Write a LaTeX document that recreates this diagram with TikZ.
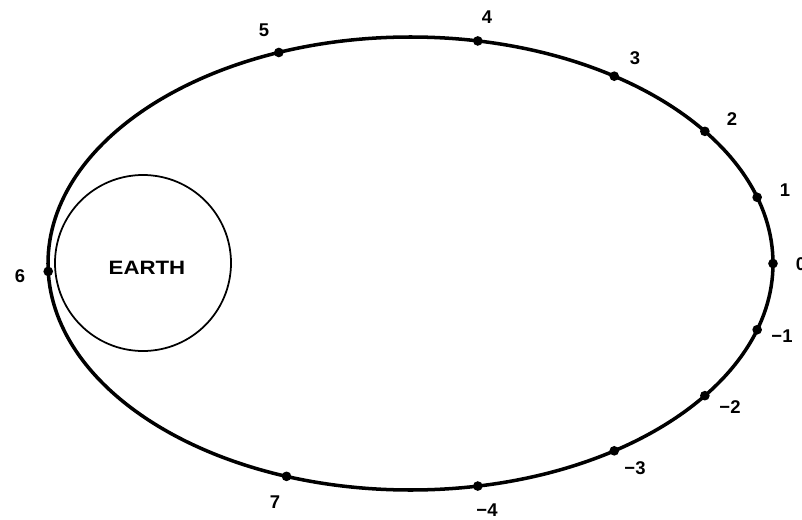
\documentclass[tikz,border=0pt]{standalone}
\usepackage{fontspec}
\setmainfont{Liberation Sans}
\begin{document}
\begin{tikzpicture}[
  orbitdot/.style={circle,fill,inner sep=0pt,minimum size=5.5pt},
  num/.style={font=\bfseries\fontsize{10.5}{11}\selectfont}]
\useasboundingbox (0,0) rectangle (16.04,10.38);
\coordinate (c) at (8.21,5.11);

% orbit and earth
\draw[line width=2pt] (c) ellipse [x radius=7.25, y radius=4.53];
\node[draw,circle,line width=1pt,minimum size=3.52cm,inner sep=0pt] (earth) at (2.86,5.12) {};
\node[font=\bfseries\fontsize{11}{12}\selectfont,xscale=1.15] (earthname) at (2.94,5.03) {EARTH};

% positions on the orbit
\foreach \a/\n in {0/p0,17/p1,35.7/p2,55.8/p3,79.3/p4,111.3/p5,182/p6,250/p7,
                   280.7/pm4,304.2/pm3,324.3/pm2,343/pm1}
  \node[orbitdot] (\n) at ([shift={(\a:7.25 and 4.53)}]c) {};

\foreach \x/\y/\t [count=\i] in {16.02/5.10/0,15.70/6.58/1,14.64/8.00/2,12.70/9.22/3,
                   9.74/10.04/4,5.28/9.78/5,0.40/4.86/6,5.50/0.34/7,
                   9.74/0.17/−4,12.70/1.02/−3,14.60/2.24/−2,15.64/3.66/−1}
  \node[num] (lab\i) at (\x,\y) {\t};
\end{tikzpicture}
\end{document}
